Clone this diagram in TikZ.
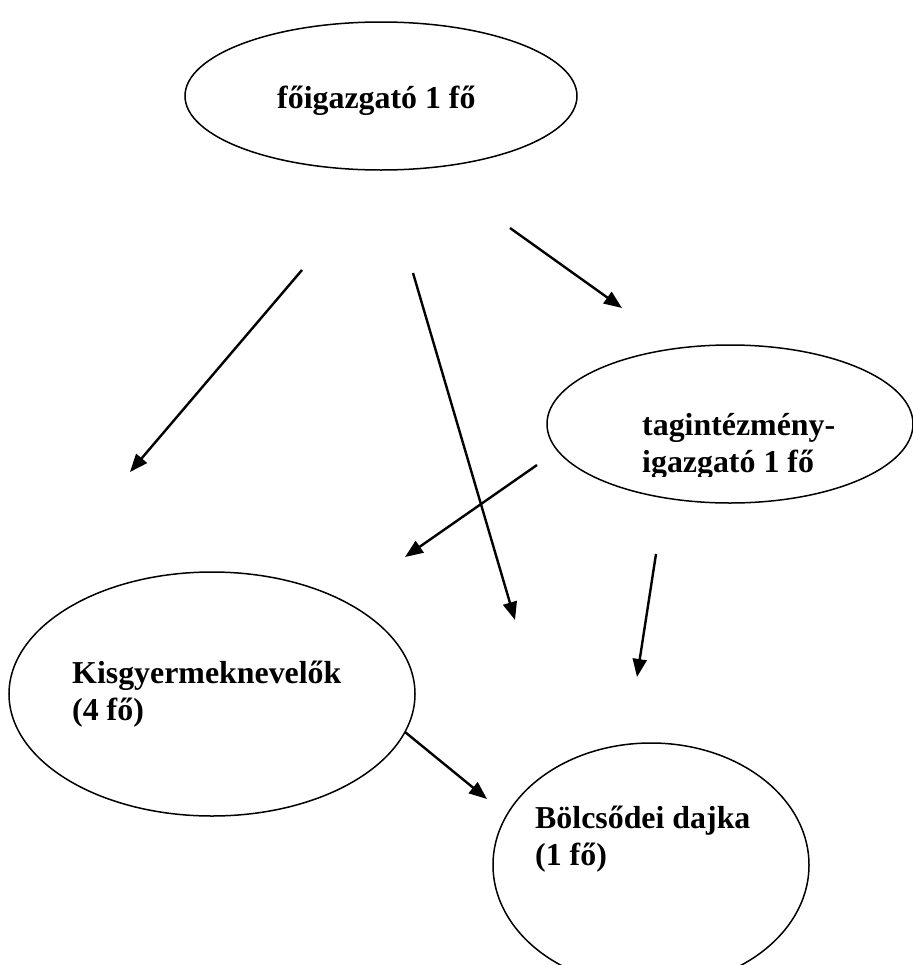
\documentclass[tikz,border=0pt]{standalone}
\usepackage{fontspec}
\setmainfont{Liberation Serif}
\usetikzlibrary{shapes.geometric, arrows.meta}
\tikzset{
  unitbox/.style={ellipse, draw=black, line width=1.5bp, inner sep=0pt},
  unittext/.style={font=\fontsize{32}{37}\selectfont\bfseries, align=left,
                   inner sep=0pt, anchor=base west},
  arrow/.style={-{Triangle[length=18bp,width=14bp]}, line width=2.4bp},
}

\begin{document}
\begin{tikzpicture}[x=1bp, y=-1bp]
  \clip (0,0) rectangle (913,965);
  \fill[white] (0,0) rectangle (913,965);

  % ellipses
  \node[unitbox, minimum width=392bp, minimum height=148bp] (foigazgato) at (381,96) {};
  \node[unitbox, minimum width=366bp, minimum height=158bp] (tagint) at (730,424) {};
  \node[unitbox, minimum width=406bp, minimum height=244bp] (kisgyermek) at (212,694) {};
  \node[unitbox, minimum width=316bp, minimum height=244bp] (bolcsode) at (651,865) {};

  % texts (anchor = baseline of the last line)
  \node[unittext] (foigazgatotxt) at (277,108) {főigazgató 1 fő};
  \begin{scope}
    \clip (540,330) rectangle (913,476);
    \node[unittext] (taginttxt) at (642,472) {tagintézmény-\\igazgató 1 fő};
  \end{scope}
  \node[unittext] (kisgyermektxt) at (72,720) {Kisgyermeknevelők\\(4 fő)};
  \node[unittext] (bolcsodetxt) at (535,865) {Bölcsődei dajka\\(1 fő)};

  % arrow ends
  \coordinate (fo-a) at (302,270);  \coordinate (fo-a-end) at (130,472);
  \coordinate (fo-b) at (413,273);  \coordinate (fo-b-end) at (515,620);
  \coordinate (fo-c) at (510,228);  \coordinate (fo-c-end) at (622,308);
  \coordinate (tag-a) at (537,465); \coordinate (tag-a-end) at (405,557);
  \coordinate (tag-b) at (656,554); \coordinate (tag-b-end) at (637,677);
  \coordinate (kis-a) at (405,732); \coordinate (kis-a-end) at (487,799);

  \draw[arrow] (fo-a) -- (fo-a-end);
  \draw[arrow] (fo-b) -- (fo-b-end);
  \draw[arrow] (fo-c) -- (fo-c-end);
  \draw[arrow] (tag-a) -- (tag-a-end);
  \draw[arrow] (tag-b) -- (tag-b-end);
  \draw[arrow] (kis-a) -- (kis-a-end);
\end{tikzpicture}
\end{document}
